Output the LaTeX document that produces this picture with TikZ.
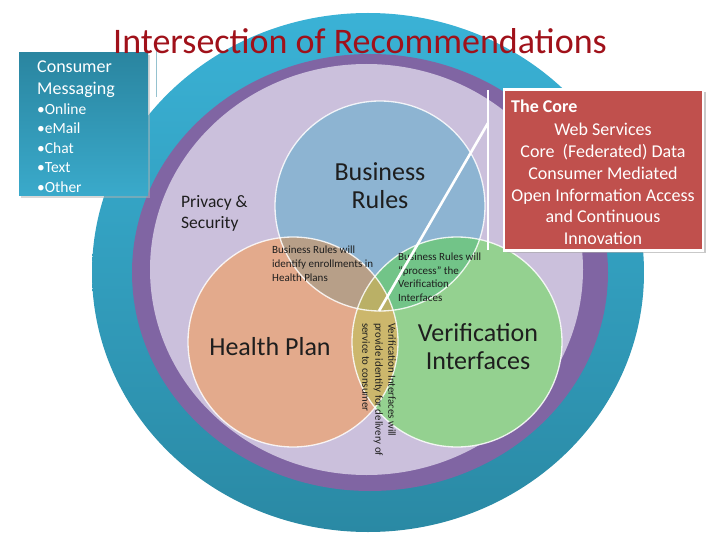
\documentclass[tikz,border=0pt]{standalone}
\usepackage{fontspec}
\setmainfont{Carlito}
\definecolor{tealtop}{HTML}{3AB2D6}
\definecolor{tealbot}{HTML}{2A89A4}
\definecolor{purp}{HTML}{8065A3}
\definecolor{lav}{HTML}{CBC0DC}
\definecolor{bluec}{HTML}{8DB4D2}
\definecolor{salm}{HTML}{E3AA8C}
\definecolor{grn}{HTML}{94D190}
\definecolor{bsx}{HTML}{B79F88}
\definecolor{bgx}{HTML}{72C488}
\definecolor{sgx}{HTML}{CCB76C}
\definecolor{trix}{HTML}{BAB066}
\definecolor{corered}{HTML}{C0504D}
\definecolor{titred}{HTML}{A0111A}
\definecolor{msgtop}{HTML}{2A85A0}
\definecolor{msgbot}{HTML}{3AAACB}
\definecolor{txt}{HTML}{1E1E1E}
\begin{document}
\begin{tikzpicture}[x=1pt,y=-1pt,
  bigtxt/.style={inner sep=0pt, text=txt, align=center, font=\fontsize{26}{28}\selectfont},
  smalltxt/.style={inner sep=0pt, text=txt, align=left, font=\fontsize{11}{13.8}\selectfont},
  wline/.style={draw=white, line width=2.6pt},
  vennedge/.style={draw=white, line width=1.3pt, opacity=0.85},
  whitetxt/.style={inner sep=0pt, text=white}]
\useasboundingbox (0,0) rectangle (720,540);
\fill[white] (0,0) rectangle (720,540);

% rings
\shade[top color=tealtop, bottom color=tealbot] (368,272.5) ellipse [x radius=276, y radius=259.5];
\fill[purp] (370,272.5) ellipse [x radius=238, y radius=218.5];
\fill[lav] (366.5,269.5) ellipse [x radius=216.5, y radius=205.5];

% Venn circles
\coordinate (cB) at (380,206);
\coordinate (cH) at (293,342);
\coordinate (cV) at (457,342);
\fill[bluec] (cB) circle[radius=105];
\fill[salm] (cH) circle[radius=105];
\fill[grn] (cV) circle[radius=105];
\begin{scope}
  \clip (cB) circle[radius=105];
  \fill[bsx] (cH) circle[radius=105];
  \fill[bgx] (cV) circle[radius=105];
\end{scope}
\begin{scope}
  \clip (cH) circle[radius=105];
  \fill[sgx] (cV) circle[radius=105];
  \clip (cB) circle[radius=105];
  \fill[trix] (cV) circle[radius=105];
\end{scope}
\draw[vennedge] (cB) circle[radius=105];
\draw[vennedge] (cH) circle[radius=105];
\draw[vennedge] (cV) circle[radius=105];

% texts in the diagram
\node[bigtxt] (br) at (380,186) {Business\\Rules};
\node[bigtxt] (hp) at (270,347) {Health Plan};
\node[bigtxt] (vi) at (478,347) {Verification\\Interfaces};
\node[inner sep=0pt, text=txt, align=left, anchor=west, font=\fontsize{17.5}{21}\selectfont] (ps) at (181,213) {Privacy \&\\Security};
\node[smalltxt, anchor=west] (t1) at (272,264) {Business Rules will\\identify enrollments in\\Health Plans};
\node[smalltxt, anchor=west, font=\fontsize{11}{13.5}\selectfont] (t2) at (398,277) {Business Rules will\\“process” the\\Verification\\Interfaces};
\node[smalltxt, rotate=-90, anchor=west, font=\fontsize{10.8}{13}\selectfont] (t3) at (379,323) {Verification Interfaces will\\provide identity for delivery of\\service to consumer};

% white connector lines
\coordinate (l1a) at (488,90);
\coordinate (l1b) at (488,250);
\coordinate (l2a) at (488,123);
\coordinate (l2b) at (379,311);
\draw[wline] (l1a) -- (l1b);
\draw[wline] (l2a) -- (l2b);

% The Core box
\fill[black!35, opacity=0.6] (507,92) rectangle (706,253);
\node[draw=white, line width=2.4pt, fill=corered, minimum width=199pt, minimum height=161pt, inner sep=0pt] (core) at (603.5,170) {};
\node[whitetxt, anchor=west, font=\bfseries\fontsize{18}{21}\selectfont] (coret) at (511,106) {The Core};
\node[whitetxt, align=center, font=\fontsize{18}{21.7}\selectfont] (corebody) at (603,184) {Web Services\\Core~ (Federated) Data\\Consumer Mediated\\Open Information Access\\and Continuous\\Innovation};

% Consumer Messaging box
\fill[black!30, opacity=0.5] (21,55) rectangle (150,198);
\node[top color=msgtop, bottom color=msgbot, minimum width=129pt, minimum height=143pt, inner sep=0pt] (msg) at (83.5,124.5) {};
\node[whitetxt, align=left, anchor=west, font=\fontsize{18}{22}\selectfont] (msgt) at (37,79) {Consumer\\Messaging};
\node[whitetxt, align=left, anchor=west, font=\fontsize{15.5}{19.5}\selectfont] (msgl) at (37,148) {•Online\\•eMail\\•Chat\\•Text\\•Other};
\coordinate (va) at (156,50);
\coordinate (vb) at (156,97);
\draw[draw=msgtop!50!white, line width=1pt] (va) -- (vb);

% title
\node[inner sep=0pt, text=titred, font=\fontsize{36}{40}\selectfont] (title) at (360,41) {Intersection of Recommendations};
\end{tikzpicture}
\end{document}
